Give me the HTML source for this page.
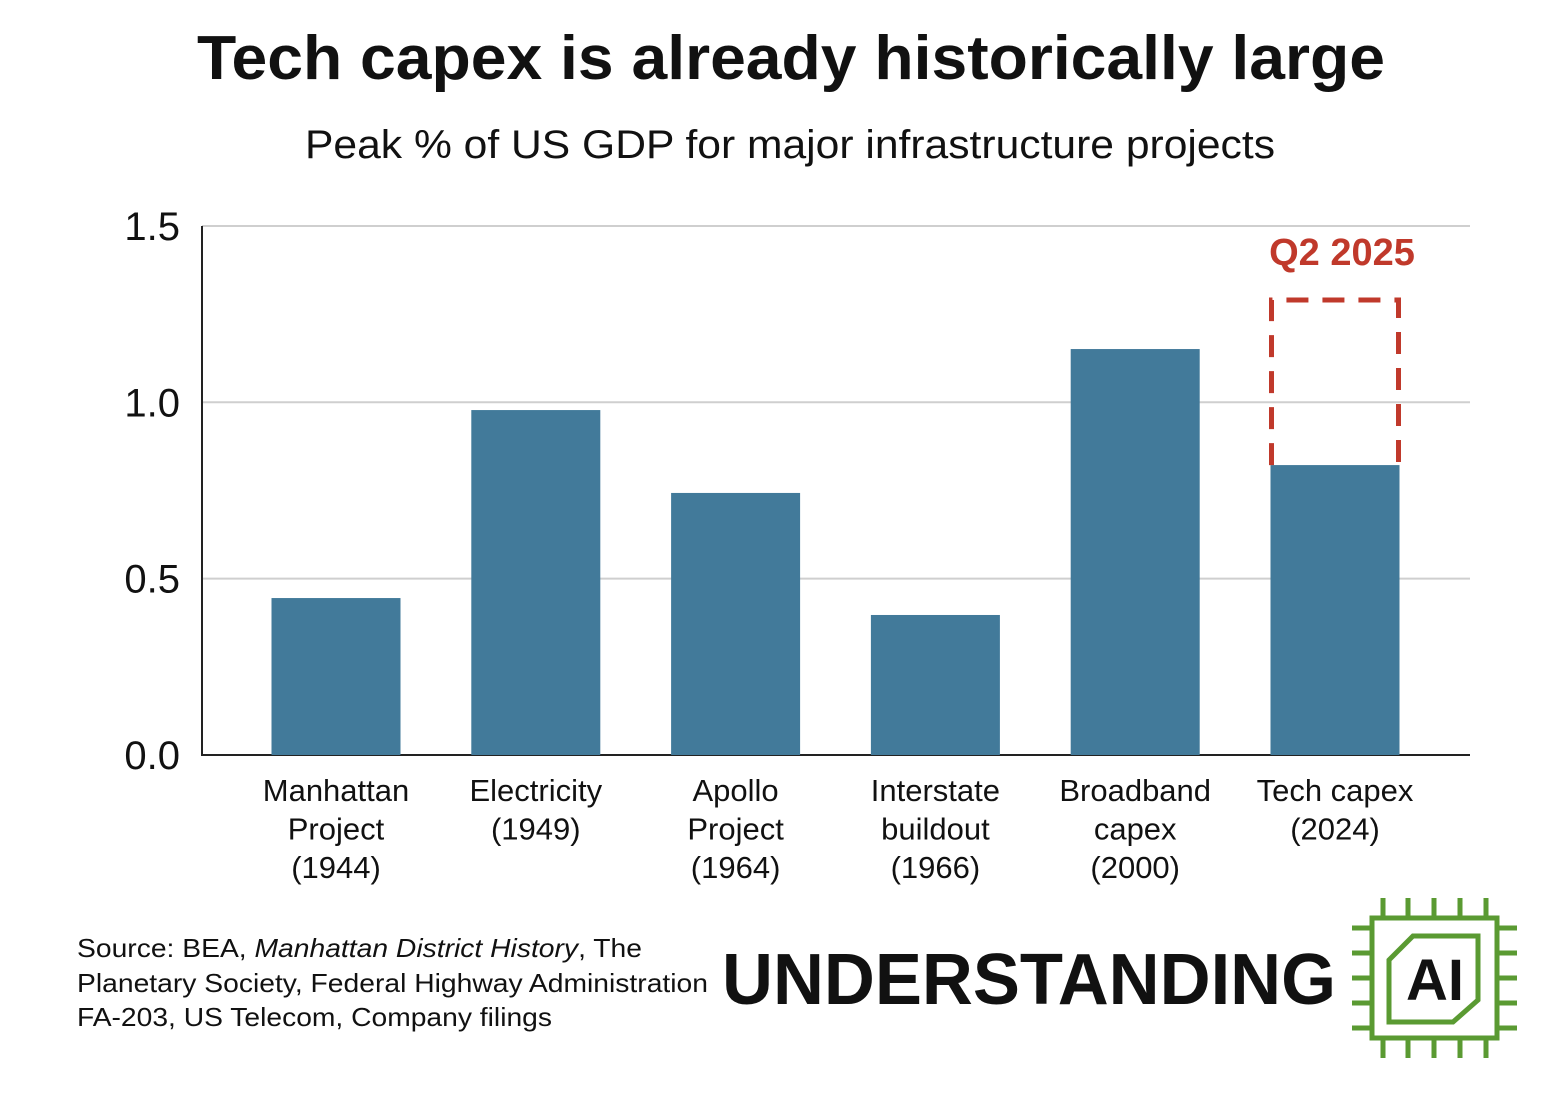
<!DOCTYPE html>
<html><head><meta charset="utf-8"><style>
body{margin:0;background:#fff;width:1564px;height:1092px;overflow:hidden;font-family:"Liberation Sans",Arial,sans-serif}
</style></head><body>
<svg id="chart" width="1564" height="1092" xmlns="http://www.w3.org/2000/svg" font-family="Liberation Sans, Arial, sans-serif">
<text x="197" y="79" font-size="62" font-weight="bold" fill="#111" textLength="1188" lengthAdjust="spacingAndGlyphs">Tech capex is already historically large</text>
<text x="305" y="158" font-size="40" fill="#111" textLength="970" lengthAdjust="spacingAndGlyphs">Peak % of US GDP for major infrastructure projects</text>
<g id="grid"></g>
<g id="bars"></g>
<g id="xlabels"></g>
<text x="1342" y="265" text-anchor="middle" font-size="38" font-weight="bold" fill="#c0392b">Q2 2025</text>
<text font-size="26" fill="#111">
<tspan x="77" y="957" textLength="565" lengthAdjust="spacingAndGlyphs">Source: BEA, <tspan font-style="italic">Manhattan District History</tspan>, The</tspan>
<tspan x="77" y="992" textLength="631" lengthAdjust="spacingAndGlyphs">Planetary Society, Federal Highway Administration</tspan>
<tspan x="77" y="1026" textLength="475" lengthAdjust="spacingAndGlyphs">FA-203, US Telecom, Company filings</tspan>
</text>
<text x="722" y="1004" font-size="72" font-weight="bold" fill="#111" textLength="614" lengthAdjust="spacingAndGlyphs">UNDERSTANDING</text>
<g stroke="#5a9a32" stroke-width="5" fill="none">
<rect x="1372" y="918" width="125" height="120"/>
<path d="M1383 898v20M1408 898v20M1434 898v20M1460 898v20M1486 898v20M1383 1038v20M1408 1038v20M1434 1038v20M1460 1038v20M1486 1038v20M1352 928h20M1352 953h20M1352 978h20M1352 1003h20M1352 1028h20M1497 928h20M1497 953h20M1497 978h20M1497 1003h20M1497 1028h20"/>
<path d="M1389 960L1413 936H1478V1000L1453 1022H1389Z"/>
</g>
<text x="1435" y="1000" text-anchor="middle" font-size="58" font-weight="bold" fill="#111">AI</text>
</svg>
<script>
const categories=[["Manhattan","Project","(1944)"],["Electricity","(1949)"],["Apollo","Project","(1964)"],["Interstate","buildout","(1966)"],["Broadband","capex","(2000)"],["Tech capex","(2024)"]];
const values=[0.445,0.978,0.743,0.397,1.151,0.822];
const q2Value=1.29;
const yTicks=[0,0.5,1.0,1.5];
const yTickLabels=["0.0","0.5","1.0","1.5"];
const NS="http://www.w3.org/2000/svg";
const y=v=>755-v*352.7;
const xc=i=>336+i*199.8;
const bw=129;
function mk(t,a,p){const e=document.createElementNS(NS,t);for(const k in a)e.setAttribute(k,a[k]);p.appendChild(e);return e;}
const grid=document.getElementById('grid');
yTicks.forEach((t,i)=>{
 if(t>0){const l=mk('line',{x1:202,x2:1470,y1:y(t),y2:y(t),stroke:'#cfcfcf','stroke-width':2},grid);
 
 }
 const tx=mk('text',{x:180,y:y(t)+14,'text-anchor':'end','font-size':40,fill:'#111'},grid);
 tx.textContent=yTickLabels[i];
 
 
});
const bars=document.getElementById('bars');
values.forEach((v,i)=>{
 const r=mk('rect',{x:xc(i)-bw/2,y:y(v),width:bw,height:y(0)-y(v),fill:'#427a9a'},bars);
 
 
});
const last=values.length-1;
const x0=xc(last)-bw/2+1,x1=xc(last)+bw/2-1,yt=y(q2Value),yb=y(values[last]);
const d=mk('path',{d:`M${x0} ${yb}V${yt}H${x1}V${yb}`,fill:'none',stroke:'#c0392b','stroke-width':5,'stroke-dasharray':'22 14'},bars);


const ax=mk('path',{d:'M202 226V755H1470',stroke:'#222','stroke-width':2,fill:'none'},grid);


const xl=document.getElementById('xlabels');
categories.forEach((c,i)=>{
 const t=mk('text',{'text-anchor':'middle','font-size':31,fill:'#111'},xl);
 
 
 c.forEach((s,j)=>{const ts=mk('tspan',{x:xc(i),y:801+j*38.5},t);ts.textContent=s;});
});
</script>
</body></html>
